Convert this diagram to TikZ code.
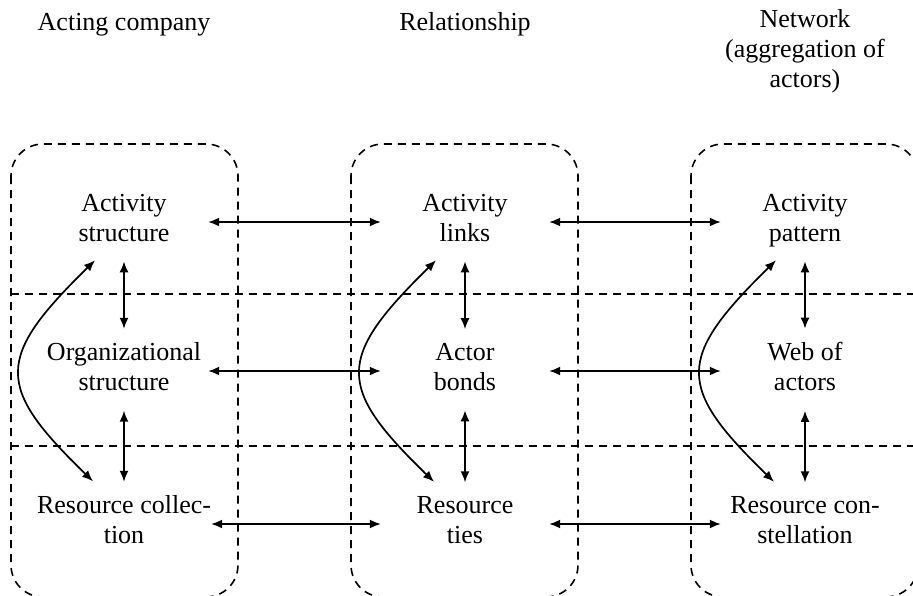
\documentclass[tikz,border=0pt]{standalone}
\usepackage{fontspec}
\setmainfont{Liberation Serif}
\usetikzlibrary{arrows.meta}
\begin{document}
\begin{tikzpicture}[x=1pt,y=-1pt,
  lbl/.style={font=\fontsize{26}{30}\selectfont, align=center, inner sep=0pt,
    execute at begin node=\strut, execute at end node=\strut},
  cell/.style={lbl, minimum width=168pt},
  box/.style={draw, line width=1.6pt, dash pattern=on 8pt off 6pt, rounded corners=32pt},
  sep/.style={draw, line width=1.6pt, dash pattern=on 8pt off 6pt},
  tip/.tip={Latex[length=11pt,width=9pt]},
  arr/.style={line width=1.7pt, tip-tip},
]
\clip (0,0) rectangle (913,595);
% column boxes
\draw[box] (11,144) rectangle (238,597);
\draw[box] (351,144) rectangle (578,597);
\draw[box] (691,144) rectangle (918,597);
% row separators
\coordinate (s1a) at (11,294);
\coordinate (s1b) at (913,294);
\coordinate (s2a) at (11,446);
\coordinate (s2b) at (913,446);
\draw[sep] (s1a) -- (s1b);
\draw[sep] (s2a) -- (s2b);
% headers
\node[lbl, anchor=north] (h1) at (124,9) {Acting company};
\node[lbl, anchor=north] (h2) at (465,9) {Relationship};
\node[lbl, anchor=north] (h3) at (805,9) {Network\\(aggregation of\\actors)};
% cells
\node[cell] (as) at (124,222) {Activity\\structure};
\node[cell] (os) at (124,371) {Organizational\\structure};
\node[cell] (rc) at (124,524) {Resource collec-\\tion};
\node[cell] (al) at (465,222) {Activity\\links};
\node[cell] (ab) at (465,371) {Actor\\bonds};
\node[cell] (rt) at (465,524) {Resource\\ties};
\node[cell] (ap) at (805,222) {Activity\\pattern};
\node[cell] (wa) at (805,371) {Web of\\actors};
\node[cell] (rk) at (805,524) {Resource con-\\stellation};
% horizontal arrows
\draw[arr] (as) -- (al);
\draw[arr] (al) -- (ap);
\draw[arr] (os) -- (ab);
\draw[arr] (ab) -- (wa);
\draw[arr] (rc) -- (rt);
\draw[arr] (rt) -- (rk);
% vertical arrows
\foreach \a/\b in {as/os, os/rc, al/ab, ab/rt, ap/wa, wa/rk}
  \draw[arr, shorten <=11pt, shorten >=13.5pt] (\a.south) -- (\b.north);
% curved arrows
\foreach \a/\b in {as/rc, al/rt, ap/rk}
  \draw[arr] ([xshift=-29pt,yshift=-10pt]\a.south) .. controls +(-100,98) and +(-98,-95) .. ([xshift=-31pt,yshift=14pt]\b.north);
\end{tikzpicture}
\end{document}
